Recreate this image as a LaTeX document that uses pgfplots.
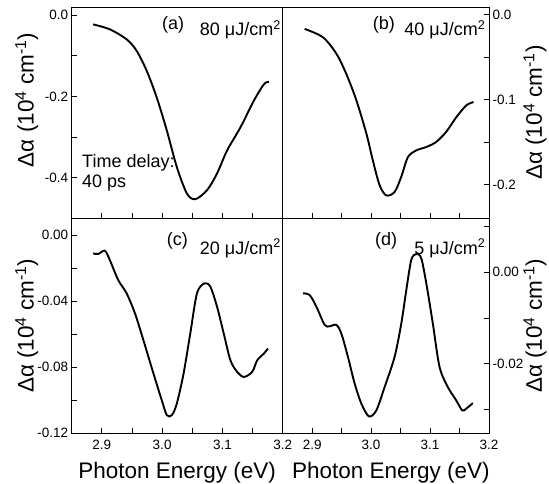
\documentclass[border=0pt]{standalone}
\usepackage{fontspec}
\setmainfont{Liberation Sans}
\usepackage{pgfplots}
\pgfplotsset{compat=1.18}
\pgfplotsset{
  panel/.style={
    scale only axis,
    axis line style={line width=0.8pt},
    tick align=inside,
    xtick pos=bottom,
    major tick length=5pt, minor tick length=5pt,
    every tick/.style={black, line width=0.7pt},
    xmin=2.85, xmax=3.2,
    xtick={2.9,3.0,3.1,3.2},
    minor xtick={2.95,3.05,3.15},
    tick label style={font=\fontsize{13.5}{13.5}\selectfont},
    label style={font=\fontsize{22.5}{22.5}\selectfont},
    xticklabel style={anchor=base, yshift=-16pt},
    /pgf/number format/assume math mode=true,
    /pgf/number format/fixed,
    /pgf/number format/fixed zerofill,
    scaled y ticks=false,
  },
  curve/.style={black, line width=1.9pt, smooth, no markers},
}
\begin{document}
\begin{tikzpicture}
\useasboundingbox (0pt,0pt) rectangle (549pt,483pt);
% (a)
\begin{axis}[panel, at={(71.7pt,264.7pt)}, anchor=south west,
  width=211pt, height=211.3pt,
  ymin=-0.5, ymax=0.02, ytick={0,-0.2,-0.4}, minor ytick={-0.1,-0.3},
  ytick pos=left, xticklabels={},
  yticklabel style={/pgf/number format/precision=1},
  ylabel={Δα (10\textsuperscript{4} cm\textsuperscript{-1})},
  ylabel style={at={(axis description cs:-0.213,0.56)}, anchor=center}]
\addplot[curve] coordinates {(2.8856,-0.0228) (2.9133,-0.035) (2.9411,-0.0595) (2.9578,-0.088) (2.9744,-0.137) (2.991,-0.2024) (3.0078,-0.284) (3.0244,-0.374) (3.0411,-0.439) (3.055,-0.453) (3.0744,-0.431) (3.091,-0.39) (3.1078,-0.333) (3.13,-0.276) (3.1522,-0.2105) (3.1689,-0.17) (3.1772,-0.164)};
\end{axis}
% (b)
\begin{axis}[panel, at={(282.7pt,264.7pt)}, anchor=south west,
  width=206.3pt, height=211.3pt,
  ymin=-0.24, ymax=0.009, ytick={0,-0.1,-0.2}, minor ytick={-0.05,-0.15},
  ytick pos=right, yticklabel pos=right, xticklabels={},
  yticklabel style={/pgf/number format/precision=1},
  ylabel={Δα (10\textsuperscript{4} cm\textsuperscript{-1})},
  ylabel style={at={(axis description cs:1.223,0.5)}, anchor=center}]
\addplot[curve] coordinates {(2.8873,-0.0168) (2.9183,-0.0267) (2.941,-0.046) (2.958,-0.07) (2.975,-0.101) (2.9919,-0.140) (3.003,-0.172) (3.0144,-0.201) (3.0257,-0.213) (3.0398,-0.209) (3.0512,-0.191) (3.0624,-0.168) (3.0766,-0.160) (3.0936,-0.156) (3.1105,-0.150) (3.1275,-0.138) (3.1444,-0.121) (3.1614,-0.107) (3.1737,-0.103)};
\end{axis}
% (c)
\begin{axis}[panel, at={(71.7pt,49.7pt)}, anchor=south west,
  width=211pt, height=215pt,
  ymin=-0.12, ymax=0.0101, ytick={0,-0.04,-0.08,-0.12}, minor ytick={-0.02,-0.06,-0.10},
  ytick pos=left, xticklabels={2.9,3.0,3.1,3.2},
  yticklabel style={/pgf/number format/precision=2},
  ylabel={Δα (10\textsuperscript{4} cm\textsuperscript{-1})},
  ylabel style={at={(axis description cs:-0.213,0.5)}, anchor=center},
  xlabel={Photon Energy (eV)},
  xlabel style={at={(axis description cs:0.5,0)}, anchor=base, yshift=-44.7pt}]
\addplot[curve] coordinates {(2.8856,-0.0111) (2.8939,-0.0115) (2.905,-0.0095) (2.9133,-0.0152) (2.9272,-0.0273) (2.9411,-0.0353) (2.955,-0.0475) (2.9689,-0.0636) (2.9856,-0.0838) (2.9994,-0.100) (3.0078,-0.109) (3.0161,-0.109) (3.0244,-0.102) (3.0356,-0.0838) (3.0467,-0.0596) (3.0578,-0.0353) (3.07,-0.0293) (3.08,-0.0313) (3.0911,-0.0434) (3.1022,-0.0596) (3.1133,-0.0758) (3.1244,-0.0828) (3.1356,-0.0859) (3.1494,-0.0828) (3.1578,-0.0758) (3.1689,-0.0717) (3.1756,-0.0687)};
\end{axis}
% (d)
\begin{axis}[panel, at={(282.7pt,49.7pt)}, anchor=south west,
  width=206.3pt, height=215pt,
  ymin=-0.0352, ymax=0.0118, ytick={0,-0.02}, minor ytick={0.01,-0.01,-0.03},
  ytick pos=right, yticklabel pos=right, xticklabels={2.9,3.0,3.1,3.2},
  yticklabel style={/pgf/number format/precision=2},
  ylabel={Δα (10\textsuperscript{4} cm\textsuperscript{-1})},
  ylabel style={at={(axis description cs:1.223,0.5)}, anchor=center},
  xlabel={Photon Energy (eV)},
  xlabel style={at={(axis description cs:0.5,0)}, anchor=base, yshift=-44.7pt, xshift=5pt}]
\addplot[curve] coordinates {(2.8845,-0.0046) (2.8958,-0.0050) (2.9071,-0.0075) (2.9212,-0.0115) (2.9297,-0.0118) (2.941,-0.0115) (2.9495,-0.0134) (2.9607,-0.0185) (2.972,-0.0243) (2.9834,-0.0287) (2.9963,-0.0315) (3.0088,-0.0302) (3.0229,-0.0251) (3.0398,-0.0185) (3.0512,-0.0112) (3.0597,-0.0039) (3.0681,0.0027) (3.0766,0.0040) (3.085,0.0031) (3.0936,-0.0024) (3.1047,-0.0112) (3.1161,-0.0207) (3.1302,-0.0251) (3.1444,-0.028) (3.1546,-0.0302) (3.1614,-0.0298) (3.1726,-0.0286)};
\end{axis}
% panel annotations
\begin{scope}[every node/.style={inner sep=0pt, font=\fontsize{18}{18}\selectfont}]
\node[anchor=base west] at (162pt,453pt) {(a)};
\node[anchor=base east] at (281pt,447pt) {80 μJ/cm\textsuperscript{2}};
\node[anchor=base west] at (372.7pt,453pt) {(b)};
\node[anchor=base east] at (485.5pt,447pt) {40 μJ/cm\textsuperscript{2}};
\node[anchor=base west] at (166.7pt,238pt) {(c)};
\node[anchor=base east] at (281pt,229pt) {20 μJ/cm\textsuperscript{2}};
\node[anchor=base west] at (375pt,238pt) {(d)};
\node[anchor=base east] at (485.5pt,229pt) {5 μJ/cm\textsuperscript{2}};
\node[anchor=base west] at (82pt,316pt) {Time delay:};
\node[anchor=base west] at (82pt,296pt) {40 ps};
\end{scope}
\end{tikzpicture}
\end{document}
